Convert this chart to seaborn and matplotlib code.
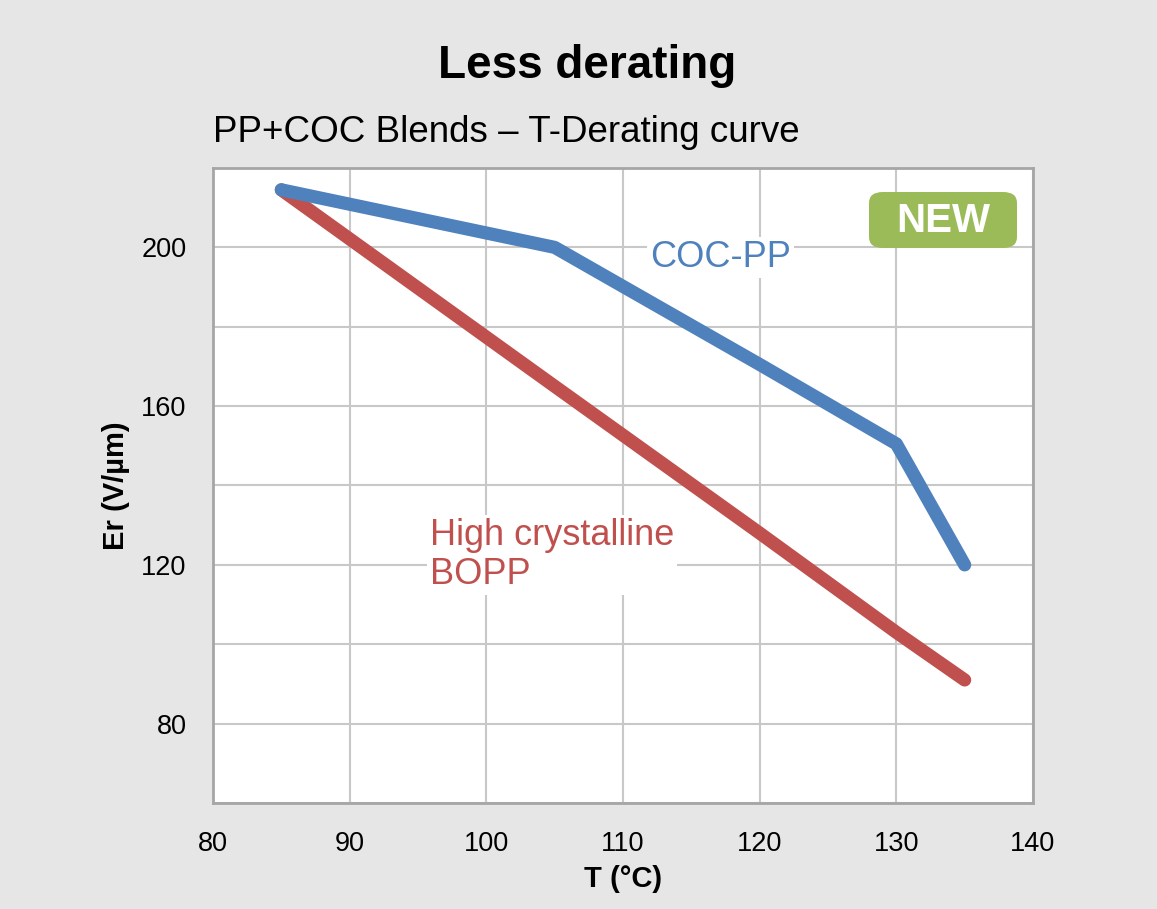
import matplotlib
matplotlib.use("Agg")
import matplotlib.pyplot as plt
import seaborn as sns
import pandas as pd
from matplotlib.patches import FancyBboxPatch

# Data
temps = [85, 105, 120, 130, 135]
coc_pp = [214.5, 200, 170.5, 150.5, 120]
bopp = [214.5, 165, 128, 103, 91]
series_names = ["COC-PP", "High crystalline BOPP"]
x_ticks = [80, 90, 100, 110, 120, 130, 140]
y_ticks = [80, 120, 160, 200]

df = pd.DataFrame({
    "T": temps * 2,
    "Er": coc_pp + bopp,
    "series": [series_names[0]] * len(temps) + [series_names[1]] * len(temps),
})

sns.set_theme(style="white")
plt.rcParams['font.family'] = ['Liberation Sans', 'DejaVu Sans']
plt.rcParams['text.color'] = 'black'
plt.rcParams['axes.labelcolor'] = 'black'
plt.rcParams['xtick.color'] = 'black'
plt.rcParams['ytick.color'] = 'black'

BG = "#E6E6E6"
BLUE = "#4F81BD"
RED = "#C0504D"
GREEN = "#9BBB59"

fig = plt.figure(figsize=(11.57, 9.09), dpi=100, facecolor=BG)
ax = fig.add_axes([213/1157, 1-803/909, (1033-213)/1157, (803-168)/909])
ax.set_facecolor("white")

# BOPP first so COC-PP is on top at the shared start point
sns.lineplot(data=df, x="T", y="Er", hue="series", hue_order=[series_names[1], series_names[0]],
             palette={series_names[0]: BLUE, series_names[1]: RED},
             linewidth=9.5, ax=ax, legend=False, solid_capstyle="round",
             solid_joinstyle="round", zorder=3)

ax.set_xlim(80, 140)
ax.set_ylim(60, 220)
ax.set_xticks(x_ticks)
ax.set_xticklabels([str(v) for v in x_ticks], fontsize=19.5)
ax.set_yticks(y_ticks)
ax.set_yticklabels([str(v) for v in y_ticks], fontsize=19.5)
ax.set_yticks(range(60, 221, 20), minor=True)
ax.grid(True, which="both", axis="y", color="#C8C8C8", linewidth=1.5, zorder=0)
ax.grid(True, which="major", axis="x", color="#C8C8C8", linewidth=1.5, zorder=0)
ax.tick_params(axis="both", which="both", length=0)
ax.tick_params(axis="x", pad=20)
ax.tick_params(axis="y", pad=19)
for s in ax.spines.values():
    s.set_color("#A6A6A6")
    s.set_linewidth(2)
ax.set_axisbelow(True)

ax.set_xlabel("T (°C)", fontsize=21, fontweight="bold", labelpad=6)
ax.set_ylabel("Er (V/µm)", fontsize=21, fontweight="bold", labelpad=8)

# Series labels
ax.text(112, 197.5, "COC-PP", color=BLUE, fontsize=26, va="center", ha="left",
        bbox=dict(facecolor="white", edgecolor="none", pad=2), zorder=2)
ax.text(95.9, 122.5, "High crystalline\nBOPP", color=RED, fontsize=26, va="center", ha="left",
        linespacing=1.15, bbox=dict(facecolor="white", edgecolor="none", pad=2), zorder=2)

# NEW badge
badge = FancyBboxPatch((869/1157, 1-248/909), (1017-869)/1157, (248-192)/909,
                       boxstyle="round,pad=0,rounding_size=0.012",
                       transform=fig.transFigure, facecolor=GREEN, edgecolor="none", zorder=5)
fig.patches.append(badge)
fig.text((869+1017)/2/1157, 1-221/909, "NEW", color="white", fontsize=29, fontweight="bold",
         ha="center", va="center", zorder=6)

# Titles
fig.text(587/1157, 1-66/909, "Less derating", fontsize=33, fontweight="bold",
         ha="center", va="center")
fig.text(213/1157, 1-132/909, "PP+COC Blends – T-Derating curve", fontsize=26.5,
         ha="left", va="center")

fig.savefig("out.png", dpi=100, facecolor=BG)
